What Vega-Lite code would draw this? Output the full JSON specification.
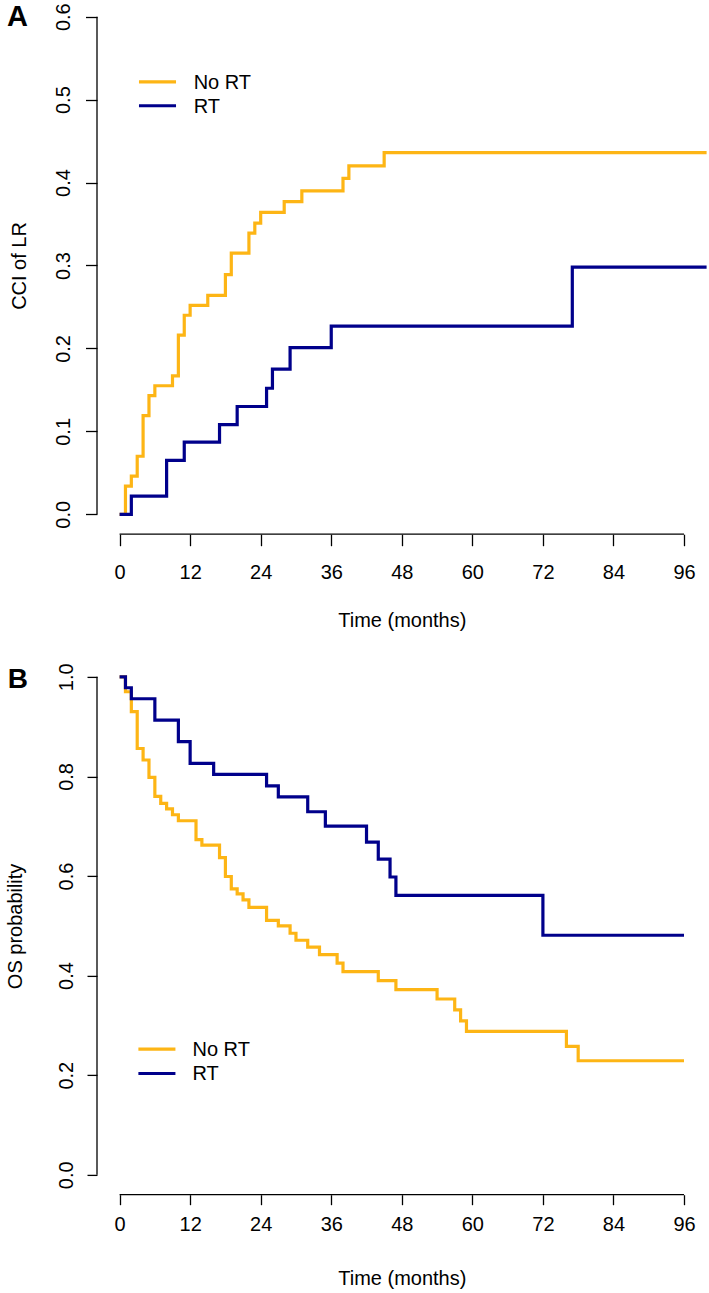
{
  "$schema": "https://vega.github.io/schema/vega-lite/v6.json",
  "background": "white",
  "padding": {"left": 5, "top": 0, "right": 0, "bottom": 0},
  "bounds": "flush",
  "spacing": 121.9,
  "config": {
    "view": {"stroke": null},
    "font": "Liberation Sans",
    "axis": {
      "labelFont": "Liberation Sans", "titleFont": "Liberation Sans",
      "labelColor": "black", "titleColor": "black", "tickColor": "black",
      "labelFontSize": 20, "titleFontSize": 20, "titleFontWeight": "normal",
      "tickWidth": 1.3, "grid": false, "domain": false,
      "labelFlush": false, "labelOverlap": false
    }
  },
  "datasets": {
    "one": [{}],
    "cci": [
      {"group": "No RT", "month": 0, "cci": 0},
      {"group": "No RT", "month": 1, "cci": 0.034},
      {"group": "No RT", "month": 2, "cci": 0.046},
      {"group": "No RT", "month": 3, "cci": 0.070},
      {"group": "No RT", "month": 4, "cci": 0.119},
      {"group": "No RT", "month": 5, "cci": 0.143},
      {"group": "No RT", "month": 6, "cci": 0.155},
      {"group": "No RT", "month": 9, "cci": 0.167},
      {"group": "No RT", "month": 10, "cci": 0.216},
      {"group": "No RT", "month": 11, "cci": 0.240},
      {"group": "No RT", "month": 12, "cci": 0.252},
      {"group": "No RT", "month": 15, "cci": 0.264},
      {"group": "No RT", "month": 18, "cci": 0.289},
      {"group": "No RT", "month": 19, "cci": 0.315},
      {"group": "No RT", "month": 22, "cci": 0.339},
      {"group": "No RT", "month": 23, "cci": 0.351},
      {"group": "No RT", "month": 24, "cci": 0.364},
      {"group": "No RT", "month": 28, "cci": 0.377},
      {"group": "No RT", "month": 31, "cci": 0.390},
      {"group": "No RT", "month": 38, "cci": 0.405},
      {"group": "No RT", "month": 39, "cci": 0.420},
      {"group": "No RT", "month": 45, "cci": 0.436},
      {"group": "No RT", "month": 101, "cci": 0.436},
      {"group": "RT", "month": 0, "cci": 0},
      {"group": "RT", "month": 2, "cci": 0.022},
      {"group": "RT", "month": 8, "cci": 0.065},
      {"group": "RT", "month": 11, "cci": 0.087},
      {"group": "RT", "month": 17, "cci": 0.108},
      {"group": "RT", "month": 20, "cci": 0.130},
      {"group": "RT", "month": 25, "cci": 0.152},
      {"group": "RT", "month": 26, "cci": 0.175},
      {"group": "RT", "month": 29, "cci": 0.201},
      {"group": "RT", "month": 36, "cci": 0.227},
      {"group": "RT", "month": 77, "cci": 0.298},
      {"group": "RT", "month": 101, "cci": 0.298}
    ],
    "os": [
      {"group": "No RT", "month": 0, "os": 1},
      {"group": "No RT", "month": 1, "os": 0.970},
      {"group": "No RT", "month": 2, "os": 0.930},
      {"group": "No RT", "month": 3, "os": 0.856},
      {"group": "No RT", "month": 4, "os": 0.833},
      {"group": "No RT", "month": 5, "os": 0.798},
      {"group": "No RT", "month": 6, "os": 0.760},
      {"group": "No RT", "month": 7, "os": 0.746},
      {"group": "No RT", "month": 8, "os": 0.735},
      {"group": "No RT", "month": 9, "os": 0.723},
      {"group": "No RT", "month": 10, "os": 0.711},
      {"group": "No RT", "month": 13, "os": 0.673},
      {"group": "No RT", "month": 14, "os": 0.662},
      {"group": "No RT", "month": 17, "os": 0.637},
      {"group": "No RT", "month": 18, "os": 0.599},
      {"group": "No RT", "month": 19, "os": 0.574},
      {"group": "No RT", "month": 20, "os": 0.564},
      {"group": "No RT", "month": 21, "os": 0.552},
      {"group": "No RT", "month": 22, "os": 0.537},
      {"group": "No RT", "month": 25, "os": 0.511},
      {"group": "No RT", "month": 27, "os": 0.500},
      {"group": "No RT", "month": 29, "os": 0.485},
      {"group": "No RT", "month": 30, "os": 0.471},
      {"group": "No RT", "month": 32, "os": 0.457},
      {"group": "No RT", "month": 34, "os": 0.442},
      {"group": "No RT", "month": 37, "os": 0.425},
      {"group": "No RT", "month": 38, "os": 0.408},
      {"group": "No RT", "month": 44, "os": 0.390},
      {"group": "No RT", "month": 47, "os": 0.372},
      {"group": "No RT", "month": 54, "os": 0.353},
      {"group": "No RT", "month": 57, "os": 0.331},
      {"group": "No RT", "month": 58, "os": 0.309},
      {"group": "No RT", "month": 59, "os": 0.288},
      {"group": "No RT", "month": 76, "os": 0.258},
      {"group": "No RT", "month": 78, "os": 0.229},
      {"group": "No RT", "month": 96, "os": 0.229},
      {"group": "RT", "month": 0, "os": 1},
      {"group": "RT", "month": 1, "os": 0.978},
      {"group": "RT", "month": 2, "os": 0.956},
      {"group": "RT", "month": 6, "os": 0.913},
      {"group": "RT", "month": 10, "os": 0.870},
      {"group": "RT", "month": 12, "os": 0.826},
      {"group": "RT", "month": 16, "os": 0.804},
      {"group": "RT", "month": 25, "os": 0.781},
      {"group": "RT", "month": 27, "os": 0.759},
      {"group": "RT", "month": 32, "os": 0.729},
      {"group": "RT", "month": 35, "os": 0.700},
      {"group": "RT", "month": 42, "os": 0.668},
      {"group": "RT", "month": 44, "os": 0.634},
      {"group": "RT", "month": 46, "os": 0.598},
      {"group": "RT", "month": 47, "os": 0.561},
      {"group": "RT", "month": 72, "os": 0.481},
      {"group": "RT", "month": 96, "os": 0.481}
    ]
  },
  "vconcat": [
    {
      "width": 609.6,
      "height": 534.2,
      "layer": [
        {
          "data": {"name": "cci"},
          "mark": {"type": "line", "interpolate": "step-after", "strokeWidth": 3.2, "clip": true},
          "encoding": {
            "x": {
              "field": "month", "type": "quantitative",
              "scale": {"domain": [-3.84, 99.84], "nice": false, "zero": false},
              "axis": {
                "values": [0, 12, 24, 36, 48, 60, 72, 84, 96],
                "tickSize": 11.5, "labelPadding": 33, "labelBaseline": "alphabetic",
                "title": "Time (months)", "titleX": 304.8, "titleY": 92,
                "titleBaseline": "alphabetic", "titleAlign": "center"
              }
            },
            "y": {
              "field": "cci", "type": "quantitative",
              "scale": {"domain": [-0.024, 0.6201], "nice": false, "zero": false},
              "axis": {
                "values": [0, 0.1, 0.2, 0.3, 0.4, 0.5, 0.6], "format": ".1f",
                "tickSize": 11.5, "labelPadding": 15.5, "labelAngle": -90,
                "labelAlign": "center", "labelBaseline": "alphabetic",
                "title": "CCI of LR", "titleX": -71, "titleY": 265.5, "titleAngle": -90,
                "titleBaseline": "alphabetic", "titleAlign": "center"
              }
            },
            "color": {
              "field": "group", "type": "nominal",
              "scale": {"domain": ["No RT", "RT"], "range": ["#FDB515", "#00008B"]},
              "legend": null
            }
          }
        },
        {
          "data": {"name": "one"},
          "mark": {"type": "rule", "color": "black", "strokeWidth": 1.3},
          "encoding": {"x": {"datum": -3.84}, "y": {"datum": 0}, "y2": {"datum": 0.6}}
        },
        {
          "data": {"name": "one"},
          "mark": {"type": "rule", "color": "black", "strokeWidth": 1.3},
          "encoding": {"x": {"datum": 0}, "x2": {"datum": 96}, "y": {"datum": -0.024}}
        },
        {
          "data": {"name": "one"},
          "mark": {"type": "rule", "color": "#FDB515", "strokeWidth": 3.2},
          "encoding": {"x": {"datum": 3.3}, "x2": {"datum": 9.6}, "y": {"datum": 0.5215}}
        },
        {
          "data": {"name": "one"},
          "mark": {"type": "rule", "color": "#00008B", "strokeWidth": 3.2},
          "encoding": {"x": {"datum": 3.3}, "x2": {"datum": 9.6}, "y": {"datum": 0.4926}}
        },
        {
          "data": {"name": "one"},
          "mark": {"type": "text", "align": "left", "baseline": "middle", "fontSize": 20, "color": "black", "dy": 1},
          "encoding": {"x": {"datum": 12.6}, "y": {"datum": 0.5215}, "text": {"value": "No RT"}}
        },
        {
          "data": {"name": "one"},
          "mark": {"type": "text", "align": "left", "baseline": "middle", "fontSize": 20, "color": "black", "dy": 1},
          "encoding": {"x": {"datum": 12.6}, "y": {"datum": 0.4926}, "text": {"value": "RT"}}
        },
        {
          "data": {"name": "one"},
          "mark": {"type": "text", "align": "left", "baseline": "alphabetic", "fontSize": 29, "fontWeight": "bold", "color": "black"},
          "encoding": {"x": {"datum": -19.13}, "y": {"datum": 0.5882}, "text": {"value": "A"}}
        }
      ]
    },
    {
      "width": 609.6,
      "height": 537.8,
      "layer": [
        {
          "data": {"name": "os"},
          "mark": {"type": "line", "interpolate": "step-after", "strokeWidth": 3.2, "clip": true},
          "encoding": {
            "x": {
              "field": "month", "type": "quantitative",
              "scale": {"domain": [-3.84, 99.84], "nice": false, "zero": false},
              "axis": {
                "values": [0, 12, 24, 36, 48, 60, 72, 84, 96],
                "tickSize": 10, "labelPadding": 26, "labelBaseline": "alphabetic",
                "title": "Time (months)", "titleX": 304.8, "titleY": 90,
                "titleBaseline": "alphabetic", "titleAlign": "center"
              }
            },
            "y": {
              "field": "os", "type": "quantitative",
              "scale": {"domain": [-0.04, 1.04], "nice": false, "zero": false},
              "axis": {
                "values": [0, 0.2, 0.4, 0.6, 0.8, 1.0], "format": ".1f",
                "tickSize": 10, "labelPadding": 14, "labelAngle": -90,
                "labelAlign": "center", "labelBaseline": "alphabetic",
                "title": "OS probability", "titleX": -75.5, "titleY": 269, "titleAngle": -90,
                "titleBaseline": "alphabetic", "titleAlign": "center"
              }
            },
            "color": {
              "field": "group", "type": "nominal",
              "scale": {"domain": ["No RT", "RT"], "range": ["#FDB515", "#00008B"]},
              "legend": null
            }
          }
        },
        {
          "data": {"name": "one"},
          "mark": {"type": "rule", "color": "black", "strokeWidth": 1.3},
          "encoding": {"x": {"datum": -3.84}, "y": {"datum": 0}, "y2": {"datum": 1}}
        },
        {
          "data": {"name": "one"},
          "mark": {"type": "rule", "color": "black", "strokeWidth": 1.3},
          "encoding": {"x": {"datum": 0}, "x2": {"datum": 96}, "y": {"datum": -0.04}}
        },
        {
          "data": {"name": "one"},
          "mark": {"type": "rule", "color": "#FDB515", "strokeWidth": 3.2},
          "encoding": {"x": {"datum": 3.2}, "x2": {"datum": 9.5}, "y": {"datum": 0.2524}}
        },
        {
          "data": {"name": "one"},
          "mark": {"type": "rule", "color": "#00008B", "strokeWidth": 3.2},
          "encoding": {"x": {"datum": 3.2}, "x2": {"datum": 9.5}, "y": {"datum": 0.2034}}
        },
        {
          "data": {"name": "one"},
          "mark": {"type": "text", "align": "left", "baseline": "middle", "fontSize": 20, "color": "black", "dy": 1},
          "encoding": {"x": {"datum": 12.4}, "y": {"datum": 0.2524}, "text": {"value": "No RT"}}
        },
        {
          "data": {"name": "one"},
          "mark": {"type": "text", "align": "left", "baseline": "middle", "fontSize": 20, "color": "black", "dy": 1},
          "encoding": {"x": {"datum": 12.4}, "y": {"datum": 0.2034}, "text": {"value": "RT"}}
        },
        {
          "data": {"name": "one"},
          "mark": {"type": "text", "align": "left", "baseline": "alphabetic", "fontSize": 28, "fontWeight": "bold", "color": "black"},
          "encoding": {"x": {"datum": -19.0}, "y": {"datum": 0.977}, "text": {"value": "B"}}
        }
      ]
    }
  ]
}
